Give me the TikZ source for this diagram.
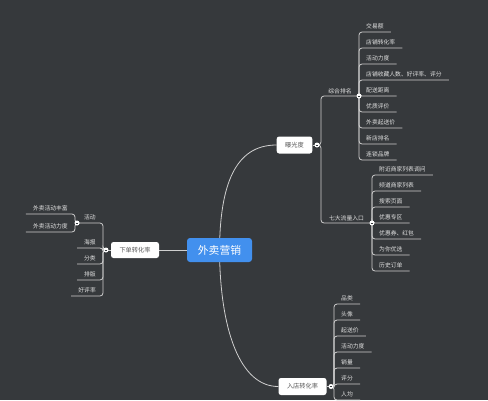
\documentclass[tikz,border=0pt]{standalone}
\usepackage{fontspec}
\newfontfamily\cjk{Noto Sans CJK SC}
\definecolor{bgc}{HTML}{36393C}
\definecolor{linec}{HTML}{CFCFCF}
\definecolor{leafc}{HTML}{E2E2E2}
\definecolor{boxtext}{HTML}{555555}
\definecolor{rootc}{HTML}{4290EE}
\pgfdeclarelayer{bgfill}
\pgfdeclarelayer{links}
\pgfsetlayers{bgfill,links,main}
\tikzset{
  leaf/.style={font=\cjk\fontsize{5.8}{6}\selectfont, text=leafc, inner xsep=7pt, inner ysep=2.5pt},
  box/.style={font=\cjk\fontsize{6.2}{7}\selectfont, fill=white, text=boxtext, rounded corners=2.5pt, minimum height=17pt, inner xsep=8.5pt, inner ysep=0pt},
  central/.style={font=\cjk\fontsize{10.8}{12}\selectfont, fill=rootc, text=white, rounded corners=3pt, minimum height=24pt, minimum width=65pt, inner sep=0pt},
  link/.style={draw=linec, line width=0.8pt, rounded corners=3pt},
  dotn/.style={circle, fill=white, minimum size=5pt, inner sep=0pt,
    path picture={\draw[bgc, line width=0.5pt] ([xshift=-1.3pt]path picture bounding box.center) -- ([xshift=1.3pt]path picture bounding box.center);}}
}
\begin{document}
\begin{tikzpicture}[x=1pt,y=-1pt]
\begin{pgfonlayer}{bgfill}
\fill[bgc] (0,0) rectangle (488,400);
\end{pgfonlayer}
\useasboundingbox (0,0) rectangle (488,400);

% main nodes
\node[central] (root) at (219.5,250) {外卖营销};
\node[box] (exp) at (294.5,145) {曝光度};
\node[box, minimum height=16pt] (order) at (135,250) {下单转化率};
\node[box] (entry) at (302.5,386.5) {入店转化率};

% dots
\node[dotn] (expd) at (317,145) {};
\node[dotn] (ordd) at (106,250) {};
\node[dotn] (entd) at (331,386.5) {};
\node[dotn] (zhd) at (359,96) {};
\node[dotn] (qdd) at (372,223) {};

% leaves: 综合排名
\foreach \n/\y/\t in {z1/32/交易额, z2/48/店铺转化率, z3/64/活动力度, z4/80/店铺收藏人数、好评率、评分, z5/96/配送距离, z6/112/优质评价, z7/128/外卖起送价, z8/144/新店排名, z9/160/连锁品牌}
  \node[leaf, anchor=south west] (\n) at (359,\y) {\t};
% leaves: 七大流量入口
\foreach \n/\y/\t in {q1/175/附近商家列表调问, q2/191/频道商家列表, q3/207/搜索页面, q4/223/优惠专区, q5/239/优惠券、红包, q6/255/为你优选, q7/271/历史订单}
  \node[leaf, anchor=south west] (\n) at (372,\y) {\t};
% leaves: 入店转化率
\foreach \n/\y/\t in {r1/304/品类, r2/320/头像, r3/336/起送价, r4/352/活动力度, r5/368/销量, r6/384/评分, r7/400/人均}
  \node[leaf, anchor=south west] (\n) at (334,\y) {\t};
% leaves: 下单转化率
\foreach \n/\y/\t in {l1/223/活动, l2/248/海报, l3/264/分类, l4/280/排版, l5/296/好评率}
  \node[leaf, anchor=south east] (\n) at (103,\y) {\t};
\node[dotn] (hdd) at (l1.south west) {};
\foreach \n/\y/\t in {a1/214/外卖活动丰富, a2/232/外卖活动力度}
  \node[leaf, anchor=south east] (\n) at (75,\y) {\t};

\begin{pgfonlayer}{links}
\draw[link] (root.center) .. controls (220,185) and (235,145) .. (exp.west);
\draw[link] (root.center) .. controls (220,330) and (240,386.5) .. (entry.west);
\draw[link] (root.center) -- (order.east);
\draw[link] (exp.east) -- (expd.center);
\draw[link] (order.west) -- (ordd.center);
\draw[link] (entry.east) -- (entd.center);
\draw[link] (expd.center) -- ++(4,0) |- node[pos=.75, anchor=south, leaf, inner ysep=2pt] {综合排名} (zhd.center);
\draw[link] (expd.center) -- ++(4,0) |- node[pos=.75, anchor=south, leaf, inner ysep=2pt] {七大流量入口} (qdd.center);
\foreach \n in {z1,z2,z3,z4,z5,z6,z7,z8,z9}
  \draw[link] (zhd.center) |- (\n.south east);
\foreach \n in {q1,q2,q3,q4,q5,q6,q7}
  \draw[link] (qdd.center) |- (\n.south east);
\foreach \n in {r1,r2,r3,r4,r5,r6,r7}
  \draw[link] (entd.center) -- ++(3,0) |- (\n.south east);
\foreach \n in {l1,l2,l3,l4,l5}
  \draw[link] (ordd.center) -- ++(-3,0) |- (\n.south west);
\foreach \n in {a1,a2}
  \draw[link] (hdd.center) -- ++(-2,0) |- (\n.south west);
\end{pgfonlayer}
\end{tikzpicture}
\end{document}
